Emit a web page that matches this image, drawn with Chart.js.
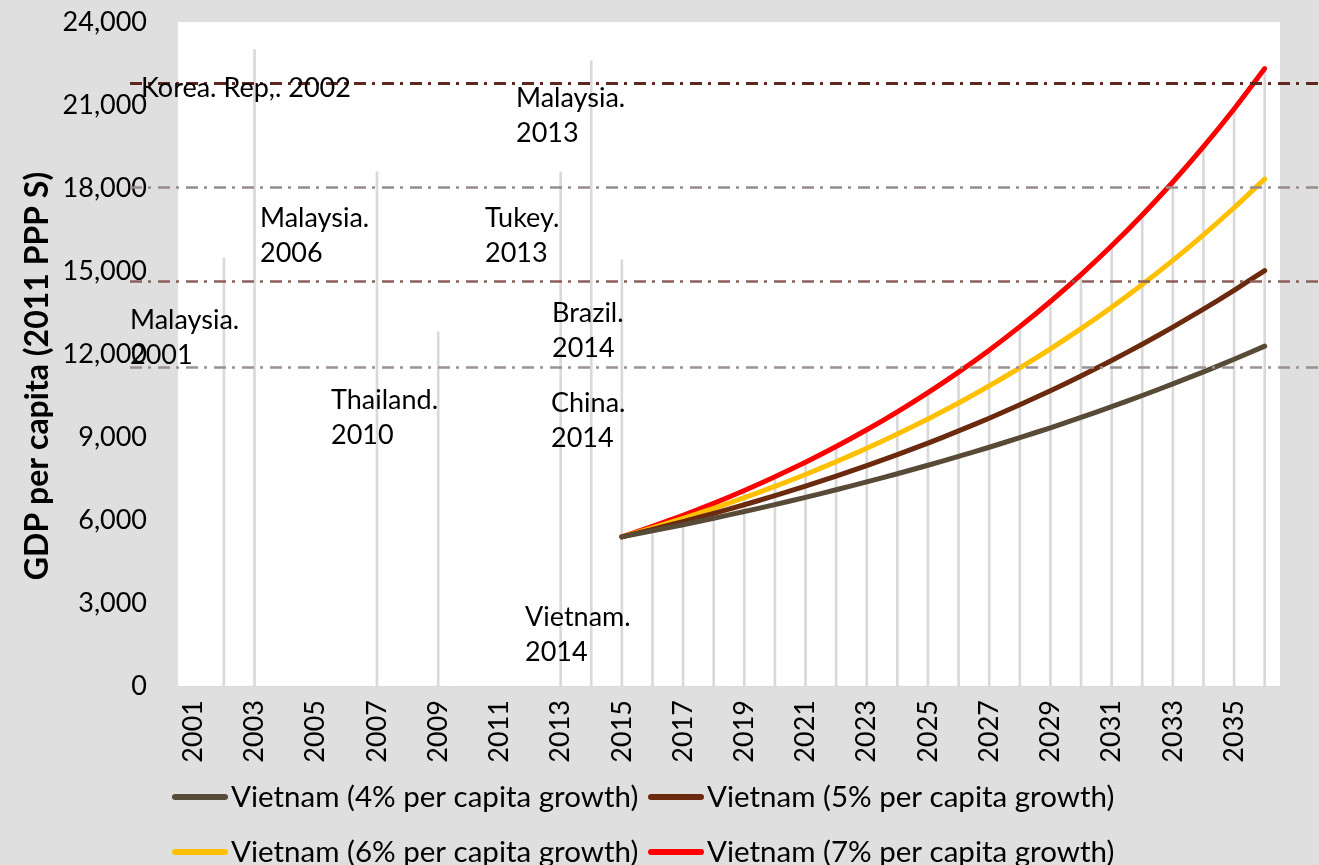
<!DOCTYPE html>
<html>
<head>
<meta charset="utf-8">
<title>Vietnam GDP per capita projections</title>
<script src="https://cdn.jsdelivr.net/npm/chart.js@4.4.1/dist/chart.umd.min.js"></script>
<style>
    html, body { margin: 0; padding: 0; background: #dfdfdf; }
    #wrap { width: 1319px; height: 865px; }
</style>
</head>
<body>
<div id="wrap"><canvas id="gdpChart" width="1319" height="865"></canvas></div>
<script>
const years = ['2001', '2002', '2003', '2004', '2005', '2006', '2007', '2008', '2009', '2010',
    '2011', '2012', '2013', '2014', '2015', '2016', '2017', '2018', '2019', '2020',
    '2021', '2022', '2023', '2024', '2025', '2026', '2027', '2028', '2029', '2030',
    '2031', '2032', '2033', '2034', '2035', '2036'];
const tickYears = ['2001', '2003', '2005', '2007', '2009', '2011', '2013', '2015', '2017',
    '2019', '2021', '2023', '2025', '2027', '2029', '2031', '2033', '2035'];
const yTicks = [0, 3000, 6000, 9000, 12000, 15000, 18000, 21000, 24000];

// projections start in 2015 (index 14)
const vn4 = [null, null, null, null, null, null, null, null, null, null, null, null, null, null,
    5390, 5606, 5830, 6063, 6305, 6558, 6820, 7093, 7377, 7672, 7979,
    8298, 8630, 8975, 9334, 9707, 10095, 10499, 10919, 11356, 11810, 12283];
const vn5 = [null, null, null, null, null, null, null, null, null, null, null, null, null, null,
    5390, 5660, 5942, 6240, 6552, 6879, 7223, 7584, 7963, 8362, 8780,
    9219, 9680, 10164, 10672, 11205, 11766, 12354, 12972, 13620, 14301, 15016];
const vn6 = [null, null, null, null, null, null, null, null, null, null, null, null, null, null,
    5390, 5713, 6056, 6420, 6805, 7213, 7646, 8105, 8591, 9106, 9653,
    10232, 10846, 11497, 12186, 12917, 13692, 14514, 15385, 16308, 17286, 18324];
const vn7 = [null, null, null, null, null, null, null, null, null, null, null, null, null, null,
    5390, 5767, 6171, 6603, 7065, 7560, 8089, 8655, 9261, 9909, 10603,
    11345, 12139, 12989, 13898, 14871, 15912, 17026, 18218, 19493, 20858, 22318];

// hidden comparison series, only its drop lines show
const countryMarks = [null, 15470, 23000, null, null, null, 18580, null, 12800, null,
    null, null, 18580, 22600, 15400, null, null, null, null, null,
    null, null, null, null, null, null, null, null, null, null,
    null, null, null, null, null, null];

const benchmarkLevels = [21800, 18050, 14640, 11530];
const noteTexts = [
    ['Korea. Rep,. 2002'],
    ['Malaysia.', '2013'],
    ['Malaysia.', '2006'],
    ['Tukey.', '2013'],
    ['Malaysia.', '2001'],
    ['Brazil.', '2014'],
    ['Thailand.', '2010'],
    ['China.', '2014'],
    ['Vietnam.', '2014']
];
const seriesLabels = [
    'Vietnam (4% per capita growth)',
    'Vietnam (5% per capita growth)',
    'Vietnam (6% per capita growth)',
    'Vietnam (7% per capita growth)'
];

// layout of the drawn shapes / text boxes
const notePos = [[141, 88], [516, 98], [260, 218], [485, 218], [130, 320],
    [552, 313], [331, 400], [551, 403], [525, 617]];
const benchmarkStyle = [
    { color: '#5f281e', width: 3 },
    { color: '#968c8c', width: 2.5 },
    { color: '#8c5f5a', width: 2.5 },
    { color: '#9b9191', width: 2.5 }
];
const FONT = 'Lato, "Open Sans", sans-serif';

const dropTops = years.map((y, i) => {
    const vals = [countryMarks[i], vn4[i], vn5[i], vn6[i], vn7[i]].filter(v => v !== null);
    return vals.length ? Math.max(...vals) : null;
});

const backdrop = {
    id: 'backdrop',
    beforeDraw(chart) {
        const { ctx, chartArea: a } = chart;
        ctx.save();
        ctx.fillStyle = '#dfdfdf';
        ctx.fillRect(0, 0, chart.width, chart.height);
        ctx.fillStyle = '#ffffff';
        ctx.fillRect(a.left, a.top, a.right - a.left, a.bottom - a.top);
        ctx.restore();
    }
};

const overlay = {
    id: 'overlay',
    afterDraw(chart) {
        const { ctx } = chart;
        const y = chart.scales.y;
        ctx.save();

        // benchmark dash-dot lines
        benchmarkLevels.forEach((level, i) => {
            const py = Math.round(y.getPixelForValue(level)) + 0.5;
            ctx.beginPath();
            ctx.setLineDash([12, 6, 3, 7]);
            ctx.strokeStyle = benchmarkStyle[i].color;
            ctx.lineWidth = benchmarkStyle[i].width;
            ctx.moveTo(130, py);
            ctx.lineTo(chart.width, py);
            ctx.stroke();
        });
        ctx.setLineDash([]);

        // country text boxes
        ctx.fillStyle = '#000';
        ctx.font = '27px ' + FONT;
        ctx.textAlign = 'left';
        ctx.textBaseline = 'middle';
        noteTexts.forEach((lines, i) => {
            lines.forEach((line, j) => {
                ctx.fillText(line, notePos[i][0], notePos[i][1] + j * 35);
            });
        });

        // y axis title
        ctx.save();
        ctx.translate(38, 376);
        ctx.rotate(-Math.PI / 2);
        ctx.textAlign = 'center';
        ctx.font = 'bold 32px ' + FONT;
        ctx.fillText('GDP per capita (2011 PPP S)', 0, 0);
        ctx.restore();

        // legend, two rows
        const cols = [172, 648];
        const rows = [797, 852];
        ctx.font = '29.5px ' + FONT;
        ctx.lineCap = 'round';
        chart.data.datasets.filter(ds => ds.type !== 'bar').forEach((ds, i) => {
            const x = cols[i % 2];
            const ly = rows[Math.floor(i / 2)];
            ctx.beginPath();
            ctx.strokeStyle = ds.borderColor;
            ctx.lineWidth = 6;
            ctx.moveTo(x + 3, ly);
            ctx.lineTo(x + 53, ly);
            ctx.stroke();
            ctx.fillText(ds.label, x + 59, ly);
        });
        ctx.restore();
    }
};

const lineSeries = (label, data, color) => ({
    type: 'line',
    label: label,
    data: data,
    borderColor: color,
    backgroundColor: color,
    borderWidth: 5,
    borderCapStyle: 'round',
    borderJoinStyle: 'round',
    pointRadius: 0,
    tension: 0.2,
    order: 1
});

const ctx = document.getElementById('gdpChart').getContext('2d');
const chart = new Chart(ctx, {
    type: 'line',
    data: {
        labels: years,
        datasets: [
            lineSeries(seriesLabels[0], vn4, '#574a36'),
            lineSeries(seriesLabels[1], vn5, '#6b2a0e'),
            lineSeries(seriesLabels[2], vn6, '#ffc000'),
            lineSeries(seriesLabels[3], vn7, '#ff0000'),
            {
                type: 'bar',
                label: 'drop lines',
                data: dropTops,
                backgroundColor: '#d9d9d9',
                barThickness: 2,
                order: 10
            }
        ]
    },
    options: {
        responsive: false,
        animation: false,
        layout: {
            padding: { left: 0, right: 39, top: 22, bottom: 0 }
        },
        plugins: {
            legend: { display: false },
            tooltip: { enabled: false }
        },
        scales: {
            x: {
                type: 'category',
                offset: true,
                grid: { display: false, drawTicks: false },
                border: { display: true, color: '#d9d9d9', width: 1 },
                ticks: {
                    autoSkip: false,
                    minRotation: 90,
                    maxRotation: 90,
                    padding: 14,
                    color: '#000',
                    font: { family: FONT, size: 27 },
                    callback: function(value, index) {
                        const label = this.getLabelForValue(value);
                        return tickYears.includes(label) ? label : '';
                    }
                },
                afterFit: scale => { scale.height = 179; }
            },
            y: {
                min: yTicks[0],
                max: yTicks[yTicks.length - 1],
                grid: { display: false, drawTicks: false },
                border: { display: false },
                afterBuildTicks: scale => {
                    scale.ticks = yTicks.map(v => ({ value: v }));
                },
                ticks: {
                    padding: 31,
                    color: '#000',
                    font: { family: FONT, size: 27 },
                    callback: function(value) {
                        return value.toLocaleString('en-US');
                    }
                },
                afterFit: scale => {
                    scale.width = 178;
                    scale.paddingTop = 0;
                    scale.paddingBottom = 0;
                }
            }
        }
    },
    plugins: [backdrop, overlay]
});
</script>
</body>
</html>
